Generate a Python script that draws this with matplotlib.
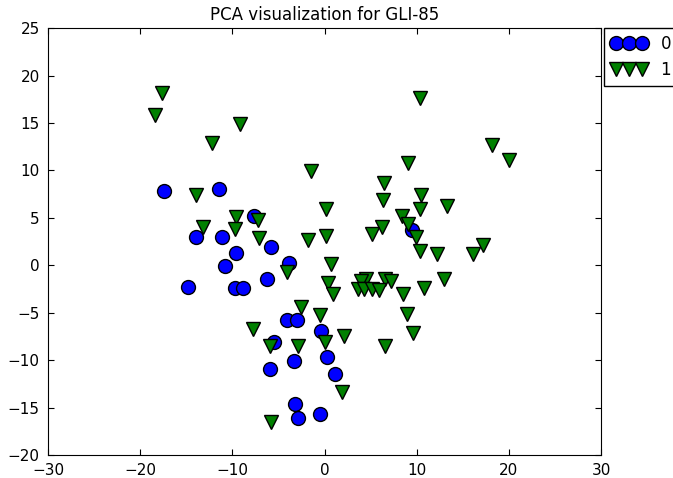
import numpy as np
import matplotlib
matplotlib.use("Agg")
import matplotlib.pyplot as plt

# class 0 points (PCA components)
x0 = [-17.4, -11.5, -13.9, -11.1, -7.7, -5.8, -9.6, -10.8, -3.9, -6.2,
      -14.8, -9.7, -8.9, -4.1, -3.0, -5.5, -0.4, -3.3, -5.9, 0.3,
      1.1, -3.2, -2.9, -0.5, 9.5]
y0 = [7.8, 8.0, 3.0, 3.0, 5.2, 1.9, 1.3, -0.1, 0.2, -1.4,
      -2.3, -2.4, -2.4, -5.8, -5.8, -8.1, -6.9, -10.1, -10.9, -9.7,
      -11.5, -14.6, -16.1, -15.7, 3.7]

# class 1 points
x1 = [-17.6, -18.4, -9.2, -12.2, -1.5, -14.0, 0.1, -9.6, -7.2, -13.2,
      -9.7, -7.1, -1.8, 0.1, 0.7, -4.1,
      0.4, 0.9, -2.6, -0.5, -7.8, 2.1, 0.0, -5.9, -2.9, 1.9, -5.8,
      10.4, 18.2, 20.0, 9.0, 6.4, 6.3, 10.5, 13.3, 10.3, 8.4, 9.1, 6.2,
      5.1, 9.9, 10.4, 12.2, 17.2, 16.1,
      4.5, 4.0, 6.6, 7.2, 3.6, 4.3, 5.1, 5.9, 8.5, 10.8, 13.0, 8.9, 9.6, 6.5]
y1 = [18.2, 15.8, 14.9, 12.9, 9.9, 7.4, 5.9, 5.1, 4.8, 4.0,
      3.8, 2.9, 2.7, 3.1, 0.1, -0.7,
      -1.9, -3.0, -4.4, -5.2, -6.7, -7.5, -8.1, -8.5, -8.5, -13.4, -16.5,
      17.6, 12.7, 11.1, 10.8, 8.7, 6.9, 7.4, 6.3, 5.9, 5.2, 4.4, 4.0,
      3.3, 3.0, 1.5, 1.2, 2.1, 1.2,
      -1.4, -1.7, -1.4, -1.7, -2.5, -2.5, -2.5, -2.6, -3.0, -2.4, -1.4, -5.1, -7.1, -8.5]

fig = plt.figure(figsize=(6.73, 4.78), dpi=100, facecolor='white')
ax = fig.add_axes([0.0713, 0.048, 0.822, 0.893])

ax.plot(x0, y0, 'o', color='blue', markeredgecolor='black', markersize=10,
        markeredgewidth=1, label='0')
ax.plot(x1, y1, 'v', color='green', markeredgecolor='black', markersize=10,
        markeredgewidth=1, label='1')

ax.set_xlim(-30, 30)
ax.set_ylim(-20, 25)
ax.set_xticks(np.arange(-30, 31, 10))
ax.set_yticks(np.arange(-20, 26, 5))
ax.tick_params(direction='in', top=True, right=True, labelsize=11, length=4, pad=6)
ax.set_title("PCA visualization for GLI-85", fontsize=12)

ax.legend(loc='upper left', bbox_to_anchor=(1.005, 1), numpoints=3,
          fontsize=12, fancybox=False, edgecolor='black', framealpha=1,
          borderaxespad=0, handletextpad=0.8, borderpad=0.4, handlelength=2.2)

fig.savefig("out.png", dpi=100, facecolor='white')
